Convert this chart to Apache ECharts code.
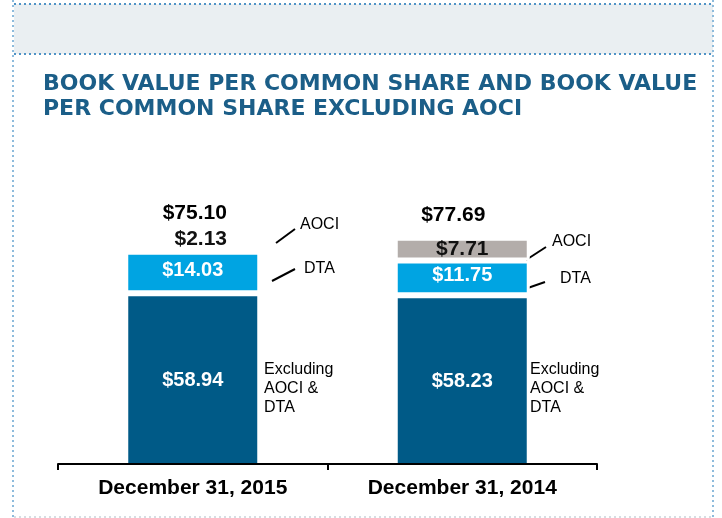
<!DOCTYPE html>
<html>
<head>
<meta charset="utf-8">
<script src="https://cdn.jsdelivr.net/npm/echarts@6/dist/echarts.min.js"></script>
<style>
    html, body { margin: 0; padding: 0; background: #fff; }
</style>
</head>
<body>
<div style="width:722px;height:518px;" id="book_value"></div>
<script>
const categories = ['December 31, 2015', 'December 31, 2014'];
const exclValues = [58.94, 58.23];
const dtaValues = [14.03, 11.75];
const aociValues = [2.13, 7.71];
const totalValues = [75.10, 77.69];

const DARK = '#005a87';
const LIGHT = '#00a4e2';
const GREY = '#b3adaa';
const money = p => '$' + Number(p.value).toFixed(2);
const labelFont = 'Liberation Sans';

// dotted frame lines
function dotted(x1, y1, x2, y2, color) {
    return {
        type: 'line',
        silent: true,
        shape: {x1: x1, y1: y1, x2: x2, y2: y2},
        style: {stroke: color, lineWidth: 2, lineDash: [2, 3]}
    };
}
function note(x, y, text) {
    return {
        type: 'text',
        silent: true,
        left: x,
        top: y,
        style: {text: text, font: '16px "Liberation Sans"', fill: '#000', lineHeight: 19}
    };
}
function stroke(x1, y1, x2, y2) {
    return {
        type: 'line',
        silent: true,
        shape: {x1: x1, y1: y1, x2: x2, y2: y2},
        style: {stroke: '#000', lineWidth: 2}
    };
}

const option = {
    animation: false,
    title: {
        text: 'BOOK VALUE PER COMMON SHARE AND BOOK VALUE\nPER COMMON SHARE EXCLUDING AOCI',
        left: 38,
        top: 67,
        textStyle: {
            fontFamily: 'DejaVu Sans',
            fontWeight: 'bold',
            fontSize: 22,
            lineHeight: 25,
            color: '#1b5e88'
        }
    },
    grid: {left: 58, right: 125, top: 172, bottom: 51},
    xAxis: {
        type: 'category',
        data: categories,
        z: 10,
        offset: -3,
        axisLine: {onZero: false, lineStyle: {color: '#000', width: 2}},
        axisTick: {show: true, length: 6, lineStyle: {color: '#000', width: 2}},
        axisLabel: {
            color: '#000',
            fontFamily: labelFont,
            fontWeight: 'bold',
            fontSize: 21,
            margin: 14
        }
    },
    yAxis: {
        type: 'value',
        min: 0,
        max: 100,
        show: false,
        splitLine: {show: false}
    },
    graphic: [
        {
            type: 'rect',
            silent: true,
            z: -10,
            shape: {x: 14, y: 4, width: 699, height: 50},
            style: {fill: '#eaeff2'}
        },
        dotted(14, 4, 713, 4, '#4f93c6'),
        dotted(14, 54, 713, 54, '#4f93c6'),
        dotted(13, 0, 13, 518, '#8dbbdc'),
        dotted(713, 0, 713, 518, '#8dbbdc'),
        dotted(14, 517, 713, 517, '#d6dde2'),

        stroke(276, 243, 295, 229),
        note(300, 215, 'AOCI'),
        stroke(272, 281, 295, 269),
        note(304, 259, 'DTA'),
        note(264, 360, 'Excluding\nAOCI &\nDTA'),

        stroke(526, 260, 546, 247),
        note(552, 232, 'AOCI'),
        stroke(522, 290, 545, 282),
        note(560, 269, 'DTA'),
        note(530, 360, 'Excluding\nAOCI &\nDTA')
    ],
    series: [
        {
            name: 'Excluding AOCI & DTA',
            type: 'bar',
            stack: 'bv',
            barWidth: 135,
            data: exclValues,
            itemStyle: {color: DARK, borderColor: '#fff', borderWidth: 3},
            label: {
                show: true,
                position: 'inside',
                formatter: money,
                color: '#fff',
                fontFamily: labelFont,
                fontWeight: 'bold',
                fontSize: 20
            }
        },
        {
            name: 'DTA',
            type: 'bar',
            stack: 'bv',
            data: dtaValues,
            itemStyle: {color: LIGHT, borderColor: '#fff', borderWidth: 3},
            label: {
                show: true,
                position: 'inside',
                offset: [0, -2],
                formatter: money,
                color: '#fff',
                fontFamily: labelFont,
                fontWeight: 'bold',
                fontSize: 20
            }
        },
        {
            name: 'AOCI',
            type: 'bar',
            stack: 'bv',
            data: aociValues.map((v, i) => ({
                value: v,
                itemStyle: {color: i === 0 ? '#ffffff' : GREY},
                label: i === 0
                    ? {position: 'top', distance: 0, offset: [8, 4]}
                    : {position: 'inside', offset: [0, 0]}
            })),
            itemStyle: {borderColor: '#fff', borderWidth: 3},
            label: {
                show: true,
                formatter: money,
                color: '#111',
                fontFamily: labelFont,
                fontWeight: 'bold',
                fontSize: 21
            }
        },
        {
            name: 'Total',
            type: 'scatter',
            silent: true,
            symbolSize: 0,
            itemStyle: {opacity: 1},
            data: totalValues.map((v, i) => ({
                value: v,
                label: {offset: i === 0 ? [2, -22] : [-9, -12]}
            })),
            label: {
                show: true,
                position: 'top',
                distance: 0,
                formatter: money,
                color: '#000',
                fontFamily: labelFont,
                fontWeight: 'bold',
                fontSize: 21
            }
        }
    ]
};

let chart = echarts.init(document.getElementById('book_value'));
chart.setOption(option);

window.addEventListener('resize', function () {
    chart.resize();
});
</script>
</body>
</html>
